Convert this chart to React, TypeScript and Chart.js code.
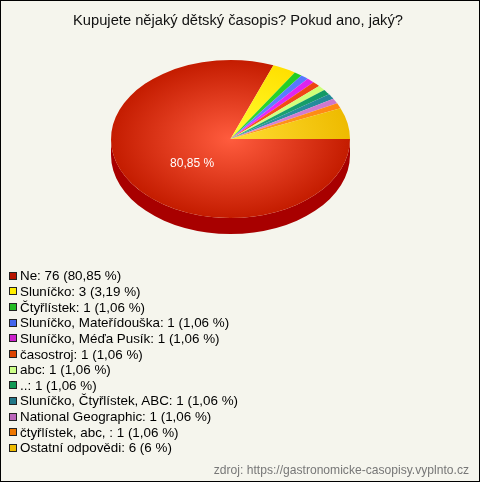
import React, { useEffect, useRef } from "react";
import { Chart, registerables } from "chart.js";

Chart.register(...registerables);

const titleText = "Kupujete nějaký dětský časopis? Pokud ano, jaký?";
const sourceText = "zdroj: https://gastronomicke-casopisy.vyplnto.cz";

const labels = [
  "Ne",
  "Sluníčko",
  "Čtyřlístek",
  "Sluníčko, Mateřídouška",
  "Sluníčko, Méďa Pusík",
  "časostroj",
  "abc",
  "..",
  "Sluníčko, Čtyřlístek, ABC",
  "National Geographic",
  "čtyřlístek, abc, ",
  "Ostatní odpovědi",
];
const values = [76, 3, 1, 1, 1, 1, 1, 1, 1, 1, 1, 6];
const percentLabels = ["80,85", "3,19", "1,06", "1,06", "1,06", "1,06", "1,06", "1,06", "1,06", "1,06", "1,06", "6"];

const innerColors = ["#ff5c3e", "#ffff30", "#33dd33", "#6688ff", "#ee33ff", "#ff5522", "#ddff88", "#22aa77", "#3399aa", "#dd88dd", "#ff9922", "#ffdd33"];
const outerColors = ["#c41c00", "#ffe000", "#22cc22", "#5577ff", "#dd22ee", "#ee4411", "#ccff77", "#119966", "#228899", "#cc77cc", "#ff8811", "#eebb00"];
const sideColors = ["#a80000", "#c8b000", "#189918", "#3c55cc", "#aa18bb", "#bb330c", "#99cc55", "#0c774c", "#186670", "#995599", "#cc660c", "#bb9000"];
const legendColors = ["#b81400", "#ffee00", "#22bb22", "#4466ee", "#cc22cc", "#dd4400", "#ccff88", "#119955", "#227788", "#bb66bb", "#ee7700", "#eebb00"];

const RADIUS = 119.5;
const Y_SCALE = 0.661;
const DEPTH = 16;
const FONT = '"Liberation Sans", Arial, sans-serif';

const pie3d = {
  id: "pie3d",
  beforeDatasetsDraw(chart: any) {
    const meta = chart.getDatasetMeta(0);
    const ctx = chart.ctx;
    ctx.save();
    if (!meta.data.length) return;
    const first = meta.data[0];
    const cx = first.x;
    const cy = first.y;
    ctx.translate(0, cy);
    ctx.scale(1, Y_SCALE);
    ctx.translate(0, -cy);
    const d = DEPTH / Y_SCALE;
    const TWO_PI = Math.PI * 2;
    meta.data.forEach((arc: any, i: number) => {
      const p = arc.getProps(["startAngle", "endAngle", "outerRadius"], true);
      const s = ((p.startAngle % TWO_PI) + TWO_PI) % TWO_PI;
      const e = s + (p.endAngle - p.startAngle);
      const windows = [
        [0, Math.PI],
        [TWO_PI, TWO_PI + Math.PI],
      ];
      windows.forEach(([w0, w1]) => {
        const a = Math.max(s, w0);
        const b = Math.min(e, w1);
        if (b > a) {
          ctx.beginPath();
          ctx.arc(cx, cy, p.outerRadius, a, b);
          ctx.arc(cx, cy + d, p.outerRadius, b, a, true);
          ctx.closePath();
          ctx.fillStyle = sideColors[i];
          ctx.fill();
        }
      });
    });
  },
  afterDatasetsDraw(chart: any) {
    const ctx = chart.ctx;
    ctx.restore();
    const meta = chart.getDatasetMeta(0);
    const total = values.reduce((a, b) => a + b, 0);
    meta.data.forEach((arc: any, i: number) => {
      if (values[i] / total < 0.1) return;
      const p = arc.getProps(["x", "y", "startAngle", "endAngle", "outerRadius"], true);
      const mid = (p.startAngle + p.endAngle) / 2;
      const x = p.x + Math.cos(mid) * p.outerRadius * 0.39;
      const y = p.y + Math.sin(mid) * p.outerRadius * 0.55 * Y_SCALE;
      ctx.save();
      ctx.fillStyle = "#ffffff";
      ctx.font = "12px " + FONT;
      ctx.textAlign = "center";
      ctx.textBaseline = "middle";
      ctx.fillText(percentLabels[i] + " %", x, y);
      ctx.restore();
    });
  },
};

export default function App() {
  const canvasRef = useRef<HTMLCanvasElement | null>(null);

  useEffect(() => {
    if (!canvasRef.current) return;
    const chart = new Chart(canvasRef.current, {
      type: "pie",
      data: {
        labels,
        datasets: [
          {
            data: values,
            borderWidth: 0,
            clip: false as any,
            backgroundColor: (c: any) => {
              const i = c.dataIndex ?? 0;
              const area = c.chart.chartArea;
              if (!area) return outerColors[i];
              const cx = (area.left + area.right) / 2;
              const cy = (area.top + area.bottom) / 2;
              const g = c.chart.ctx.createRadialGradient(cx, cy, 0, cx, cy, RADIUS);
              g.addColorStop(0, innerColors[i]);
              g.addColorStop(1, outerColors[i]);
              return g;
            },
          },
        ],
      },
      options: {
        responsive: false,
        animation: false,
        events: [],
        rotation: 90,
        radius: RADIUS,
        layout: { padding: { left: 0, right: 19, top: 19.5, bottom: 223.5 } },
        plugins: {
          legend: { display: false },
          title: { display: false },
          tooltip: { enabled: false },
        },
      } as any,
      plugins: [pie3d],
    });
    return () => chart.destroy();
  }, []);

  return (
    <div
      style={{
        position: "absolute",
        left: 0,
        top: 0,
        width: 480,
        height: 482,
        background: "#f5f5ed",
        fontFamily: FONT,
        overflow: "hidden",
      }}
    >
      <canvas
        ref={canvasRef}
        width={480}
        height={482}
        style={{ position: "absolute", left: 0, top: 0, width: 480, height: 482 }}
      />
      <div
        style={{
          position: "absolute",
          left: 0,
          top: 12,
          width: 476,
          textAlign: "center",
          fontSize: 14.7,
          lineHeight: "17px",
          color: "#111",
          whiteSpace: "nowrap",
        }}
      >
        {titleText}
      </div>
      <div style={{ position: "absolute", left: 9, top: 268 }}>
        {labels.map((lab, i) => (
          <div
            key={i}
            style={{ display: "flex", alignItems: "center", height: 15.65, whiteSpace: "pre" }}
          >
            <span
              style={{
                display: "inline-block",
                width: 8,
                height: 8,
                boxSizing: "border-box",
                border: "1px solid #222",
                background: legendColors[i],
                marginRight: 3,
              }}
            />
            <span style={{ fontSize: 13.4, lineHeight: "15px", color: "#000" }}>
              {`${lab}: ${values[i]} (${percentLabels[i]} %)`}
            </span>
          </div>
        ))}
      </div>
      <div
        style={{
          position: "absolute",
          right: 11,
          top: 462.5,
          fontSize: 12.1,
          lineHeight: "14px",
          color: "#777",
          whiteSpace: "nowrap",
        }}
      >
        {sourceText}
      </div>
      <div
        style={{
          position: "absolute",
          left: 0,
          top: 0,
          width: 480,
          height: 482,
          boxSizing: "border-box",
          border: "1px solid #000",
          pointerEvents: "none",
        }}
      />
    </div>
  );
}
